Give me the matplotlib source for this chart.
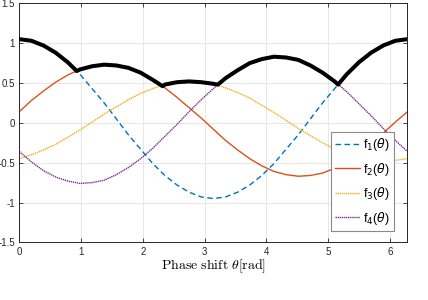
import numpy as np
import matplotlib
matplotlib.use("Agg")
import matplotlib.pyplot as plt

plt.rcParams['font.family'] = ['Liberation Sans', 'DejaVu Sans']
plt.rcParams['axes.unicode_minus'] = False

# phase shift samples, k*pi/16 for k = 0..32
theta = np.arange(33) * np.pi / 16

f1 = [1.05, 1.03, 0.97, 0.88, 0.76, 0.61, 0.43, 0.25, 0.05, -0.15, -0.33,
      -0.51, -0.66, -0.78, -0.87, -0.93, -0.95, -0.93, -0.87, -0.78, -0.66,
      -0.51, -0.33, -0.15, 0.05, 0.25, 0.43, 0.61, 0.76, 0.88, 0.97, 1.03, 1.05]
f2 = [0.14, 0.28, 0.40, 0.51, 0.60, 0.67, 0.71, 0.73, 0.72, 0.69, 0.63,
      0.54, 0.44, 0.32, 0.19, 0.06, -0.08, -0.22, -0.34, -0.45, -0.54,
      -0.61, -0.65, -0.67, -0.66, -0.63, -0.57, -0.48, -0.38, -0.26, -0.13, 0.01, 0.14]
f3 = [-0.45, -0.40, -0.34, -0.27, -0.18, -0.09, 0.01, 0.11, 0.20, 0.29, 0.37,
      0.43, 0.48, 0.51, 0.52, 0.51, 0.49, 0.44, 0.38, 0.31, 0.22,
      0.13, 0.03, -0.07, -0.16, -0.25, -0.33, -0.39, -0.44, -0.47, -0.48, -0.47, -0.45]
f4 = [-0.36, -0.49, -0.60, -0.68, -0.73, -0.76, -0.75, -0.72, -0.65, -0.56, -0.45,
      -0.32, -0.17, -0.02, 0.14, 0.29, 0.43, 0.56, 0.66, 0.75, 0.80,
      0.83, 0.82, 0.79, 0.72, 0.63, 0.52, 0.39, 0.24, 0.09, -0.07, -0.22, -0.36]

# corners of the upper envelope
kink_theta = [0.93, 2.32, 3.215, 5.16]
kink_value = [0.65, 0.46, 0.48, 0.48]

labels = ['f$_1$($\\theta$)', 'f$_2$($\\theta$)', 'f$_3$($\\theta$)', 'f$_4$($\\theta$)']
colors = ['#0072BD', '#D95319', '#EDB120', '#7E2F8E']
styles = [(0, (4, 2.5)), '-', (0, (1, 0.5)), (0, (1, 0.5))]

fig = plt.figure(figsize=(4.28, 3.0), dpi=100)
ax = fig.add_axes([0.045, 0.192, 0.907, 0.797])

for ys, lab, c, ls in zip([f1, f2, f3, f4], labels, colors, styles):
    ax.plot(theta, ys, color=c, ls=ls, lw=1.0, label=lab, zorder=2)

env = np.max(np.vstack([f1, f2, f3, f4]), axis=0)
bx = np.concatenate([theta, kink_theta])
by = np.concatenate([env, kink_value])
order = np.argsort(bx)
ax.plot(bx[order], by[order], color='black', lw=2.9, zorder=3, solid_joinstyle='round')

ax.set_xlim(0, 2 * np.pi)
ax.set_ylim(-1.5, 1.5)
ax.set_xticks(range(7))
ax.set_yticks([-1.5, -1, -0.5, 0, 0.5, 1, 1.5])
ax.set_yticklabels(['-1.5', '-1', '-0.5', '0', '0.5', '1', '1.5'])
ax.grid(True, color='#e3e3e3', lw=0.6)
ax.set_axisbelow(True)
ax.tick_params(direction='in', length=3, width=0.6, top=True, right=True,
               labelsize=7, colors='#262626', pad=3)
for s in ax.spines.values():
    s.set_color('#262626')
    s.set_linewidth(0.7)

ax.set_xlabel(r'$\mathrm{Phase\ shift}\ \theta\mathrm{[rad]}$', fontsize=10,
              math_fontfamily='cm', labelpad=1)

leg = ax.legend(loc='lower right', bbox_to_anchor=(0.966, 0.048), borderaxespad=0,
                fontsize=9, fancybox=False, framealpha=1, edgecolor='#8a8a8a',
                handlelength=2.0, handletextpad=0.25, labelspacing=0.6,
                borderpad=0.35)
leg.set_zorder(5)
leg.get_frame().set_linewidth(0.8)

fig.savefig('out.png', dpi=100)
